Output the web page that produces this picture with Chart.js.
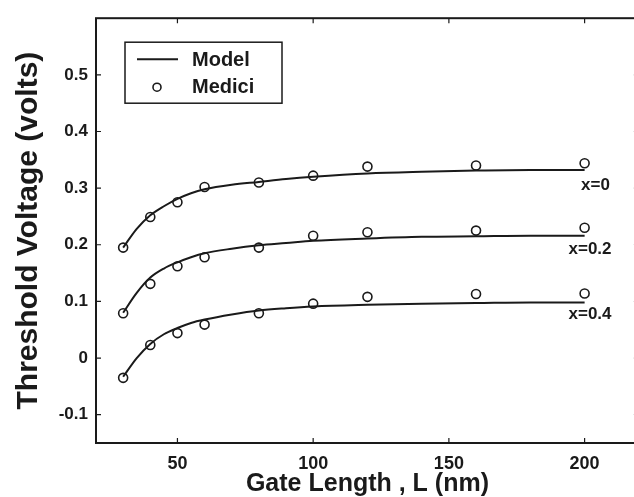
<!DOCTYPE html>
<html>
<head>
<meta charset="utf-8">
<script src="https://cdn.jsdelivr.net/npm/chart.js@4.4.1/dist/chart.umd.min.js"></script>
<style>
  html, body { margin: 0; padding: 0; background: #fff; overflow: hidden; }
  #wrap { width: 645px; height: 497px; position: relative; }
</style>
</head>
<body>
<div id="wrap"><canvas id="chart"></canvas></div>
<script>
// Medici simulation points
const gateLen = [30, 40, 50, 60, 80, 100, 120, 160, 200];
const mediciX0 = [0.195, 0.249, 0.275, 0.302, 0.310, 0.322, 0.338, 0.340, 0.344];
const mediciX02 = [0.079, 0.131, 0.162, 0.178, 0.195, 0.216, 0.222, 0.225, 0.230];
const mediciX04 = [-0.035, 0.023, 0.044, 0.059, 0.079, 0.096, 0.108, 0.113, 0.114];

// Model curves
const modelLen = [30, 35, 40, 45, 50, 55, 60, 70, 80, 90, 100, 120, 140, 160, 180, 200];
const modelX0 = [0.195, 0.228, 0.252, 0.268, 0.281, 0.291, 0.298, 0.306, 0.311, 0.316, 0.320, 0.326, 0.329, 0.331, 0.332, 0.332];
const modelX02 = [0.080, 0.115, 0.142, 0.158, 0.169, 0.178, 0.185, 0.193, 0.199, 0.203, 0.207, 0.211, 0.214, 0.215, 0.216, 0.216];
const modelX04 = [-0.033, 0.000, 0.025, 0.042, 0.053, 0.062, 0.068, 0.077, 0.084, 0.088, 0.091, 0.094, 0.096, 0.097, 0.098, 0.098];

const seriesNames = ['x=0', 'x=0.2', 'x=0.4'];
const legendNames = ['Model', 'Medici'];
const xTicks = [50, 100, 150, 200];
const yTicks = [-0.1, 0, 0.1, 0.2, 0.3, 0.4, 0.5];

const FONT = '"Liberation Sans", Arial, sans-serif';
const INK = '#1a1a1a';

function pts(xs, ys) {
    return xs.map((x, i) => ({ x: x, y: ys[i] }));
}

function modelSet(ys) {
    return {
        type: 'line',
        data: pts(modelLen, ys),
        borderColor: INK,
        borderWidth: 2,
        pointRadius: 0,
        cubicInterpolationMode: 'monotone',
        fill: false
    };
}

function mediciSet(ys) {
    return {
        type: 'scatter',
        data: pts(gateLen, ys),
        borderColor: INK,
        backgroundColor: 'rgba(255,255,255,0)',
        borderWidth: 1.6,
        pointRadius: 4.5,
        showLine: false
    };
}

// frame, inward ticks, legend box and curve labels
const extras = {
    id: 'extras',
    afterDraw(chart) {
        const ctx = chart.ctx;
        const a = chart.chartArea;
        const xs = chart.scales.x;
        const ys = chart.scales.y;
        ctx.save();
        ctx.strokeStyle = INK;
        ctx.lineWidth = 2;
        ctx.strokeRect(a.left, a.top, a.right - a.left, a.bottom - a.top);

        ctx.lineWidth = 1.2;
        ctx.beginPath();
        xTicks.forEach(v => {
            const px = xs.getPixelForValue(v);
            ctx.moveTo(px, a.bottom); ctx.lineTo(px, a.bottom - 5);
            ctx.moveTo(px, a.top); ctx.lineTo(px, a.top + 5);
        });
        yTicks.forEach(v => {
            const py = ys.getPixelForValue(v);
            ctx.moveTo(a.left, py); ctx.lineTo(a.left + 5, py);
            ctx.moveTo(a.right, py); ctx.lineTo(a.right - 5, py);
        });
        ctx.stroke();

        // legend
        const lx = a.left + 29, ly = a.top + 24;
        ctx.lineWidth = 1.5;
        ctx.strokeRect(lx, ly, 157, 61);
        ctx.lineWidth = 2;
        ctx.beginPath();
        ctx.moveTo(lx + 12, ly + 17); ctx.lineTo(lx + 53, ly + 17);
        ctx.stroke();
        ctx.lineWidth = 1.6;
        ctx.beginPath();
        ctx.arc(lx + 32, ly + 45, 4, 0, Math.PI * 2);
        ctx.stroke();
        ctx.fillStyle = INK;
        ctx.font = 'bold 20px ' + FONT;
        ctx.textAlign = 'left';
        ctx.textBaseline = 'middle';
        ctx.fillText(legendNames[0], lx + 67, ly + 18);
        ctx.fillText(legendNames[1], lx + 67, ly + 45);

        // curve labels
        const labelAt = [[204, 0.305], [202, 0.192], [202, 0.077]];
        ctx.font = 'bold 17px ' + FONT;
        ctx.textAlign = 'center';
        seriesNames.forEach((name, i) => {
            ctx.fillText(name, xs.getPixelForValue(labelAt[i][0]), ys.getPixelForValue(labelAt[i][1]));
        });
        ctx.restore();
    }
};

new Chart(document.getElementById('chart'), {
    data: {
        datasets: [
            modelSet(modelX0), modelSet(modelX02), modelSet(modelX04),
            mediciSet(mediciX0), mediciSet(mediciX02), mediciSet(mediciX04)
        ]
    },
    options: {
        responsive: true,
        maintainAspectRatio: false,
        animation: false,
        layout: { padding: { left: 0, top: 13, right: 6, bottom: 0 } },
        plugins: { legend: { display: false }, tooltip: { enabled: false } },
        scales: {
            x: {
                type: 'linear',
                min: 20,
                max: 220,
                afterFit: s => { s.height = 54; },
                afterBuildTicks: s => { s.ticks = xTicks.map(v => ({ value: v })); },
                grid: { display: false, drawTicks: false },
                border: { display: false },
                ticks: {
                    padding: 10,
                    color: INK,
                    font: { family: FONT, size: 18, weight: 'bold' },
                    callback: v => String(v)
                },
                title: {
                    display: true,
                    text: 'Gate Length , L (nm)',
                    color: INK,
                    padding: { top: 0, bottom: 0 },
                    font: { family: FONT, size: 25, weight: 'bold', lineHeight: 1 }
                }
            },
            y: {
                type: 'linear',
                min: -0.15,
                max: 0.6,
                afterFit: s => { s.width = 96; },
                afterBuildTicks: s => { s.ticks = yTicks.map(v => ({ value: v })); },
                grid: { display: false, drawTicks: false },
                border: { display: false },
                ticks: {
                    padding: 8,
                    color: INK,
                    font: { family: FONT, size: 17, weight: 'bold' },
                    callback: (v, i) => String(yTicks[i])
                },
                title: {
                    display: true,
                    text: 'Threshold Voltage (volts)',
                    color: INK,
                    padding: { top: 14, bottom: 0 },
                    font: { family: FONT, size: 30, weight: 'bold', lineHeight: 1 }
                }
            }
        }
    },
    plugins: [extras]
});
</script>
</body>
</html>
